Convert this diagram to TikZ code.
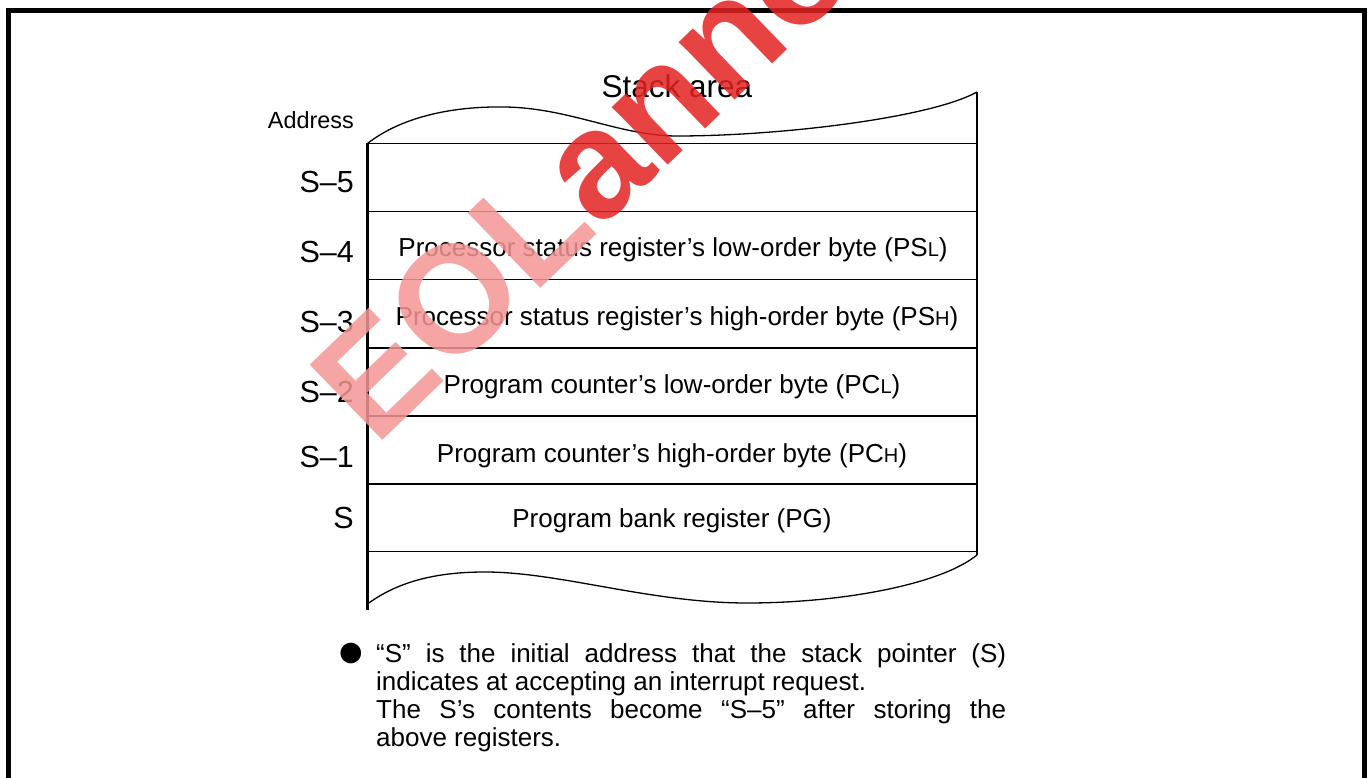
\documentclass[tikz,border=0pt]{standalone}
\usepackage{fontspec}
\setmainfont{Liberation Sans}
\newfontfamily\symfont{DejaVu Sans}
\newfontfamily\markfont{Liberation Sans}
\usetikzlibrary{calc}
\tikzset{
  rowtext/.style={anchor=base, inner sep=0pt, font=\fontsize{26}{30}\selectfont},
  addr/.style={anchor=base east, inner sep=0pt, font=\fontsize{30.5}{34}\selectfont},
  rule/.style={line width=1.4pt},
  side/.style={line width=2.4pt},
  wave/.style={line width=1.3pt},
  frame/.style={line width=5pt},
}
\newcommand\sublo[1]{{\fontsize{20}{20}\selectfont #1}}
\definecolor{markpink}{RGB}{245,150,150}
\definecolor{markred}{RGB}{228,35,35}

\begin{document}
\begin{tikzpicture}[x=1pt,y=-1pt]
\useasboundingbox (0,0) rectangle (1369,778);
\clip (0,0) rectangle (1369,778);
\fill[white] (0,0) rectangle (1369,778);

% outer frame (open at the bottom edge of the page)
\draw[frame] (8.5,800) -- (8.5,10.5) -- (1364.5,10.5) -- (1364.5,800);

% corners of the stack area
\coordinate (tl) at (367.5,143.5);
\coordinate (tr) at (977,143.5);
\coordinate (trtop) at (977,92);
\coordinate (bl) at (367.5,551.5);
\coordinate (br) at (977,551.5);
\coordinate (blend) at (367.5,604);
\coordinate (brend) at (977,555);

% side walls
\draw[side] (tl) -- ($(blend)+(0,6)$);
\draw[side] (trtop) -- (brend);

% torn top and bottom edges
\draw[wave] (tl) .. controls (400,118) and (450,106) .. (505,107)
  .. controls (570,108) and (620,136) .. (677,136)
  .. controls (780,136) and (930,118) .. (trtop);
\draw[wave] (blend) .. controls (400,580) and (440,572) .. (485,572)
  .. controls (560,572) and (650,603) .. (747,603)
  .. controls (840,603) and (940,585) .. (brend);

% row separators
\foreach \yy/\nm in {143.5/l0,211.5/l1,279.5/l2,348/l3,416/l4,484/l5,551.5/l6}{
  \draw[rule] (367.5,\yy) coordinate (\nm w) -- (977,\yy) coordinate (\nm e);
}

% title and column heading
\node[anchor=base, inner sep=0pt, font=\fontsize{31.5}{36}\selectfont] (title) at (677,97.5) {Stack area};
\node[anchor=base east, inner sep=0pt, font=\fontsize{23.4}{28}\selectfont] (address) at (354,129) {Address};

% addresses
\node[addr] (a5) at (354,193) {S–5};
\node[addr] (a4) at (354,263) {S–4};
\node[addr] (a3) at (354,333) {S–3};
\node[addr] (a2) at (354,402) {S–2};
\node[addr] (a1) at (354,467) {S–1};
\node[addr] (a0) at (354,528) {S};

% stored registers
\node[rowtext] (r4) at (673,257) {Processor status register’s low-order byte (PS\sublo{L})};
\node[rowtext] (r3) at (677,326) {Processor status register’s high-order byte (PS\sublo{H})};
\node[rowtext] (r2) at (672,393) {Program counter’s low-order byte (PC\sublo{L})};
\node[rowtext] (r1) at (672,462) {Program counter’s high-order byte (PC\sublo{H})};
\node[rowtext] (r0) at (672,527) {Program bank register (PG)};

% note below the stack
\node[anchor=base west, inner sep=0pt, font=\symfont\fontsize{27}{27}\selectfont] (dot) at (339,660) {●};
\node[anchor=north west, inner sep=0pt, align=left,
      font=\fontsize{26}{28}\selectfont] (note) at (376,643)
  {\makebox[630pt][s]{“S” is the initial address that the stack pointer (S)}\\
   indicates at accepting an interrupt request.\\
   \makebox[630pt][s]{The S’s contents become “S–5” after storing the}\\
   above registers.};

% watermark
\node[anchor=base west, inner sep=0pt, rotate=44, opacity=0.85,
      font=\markfont\bfseries\fontsize{152}{152}\selectfont] (mark) at (375,448)
  {\textcolor{markpink}{EOL}\textcolor{markred}{ announced}};
\end{tikzpicture}
\end{document}
